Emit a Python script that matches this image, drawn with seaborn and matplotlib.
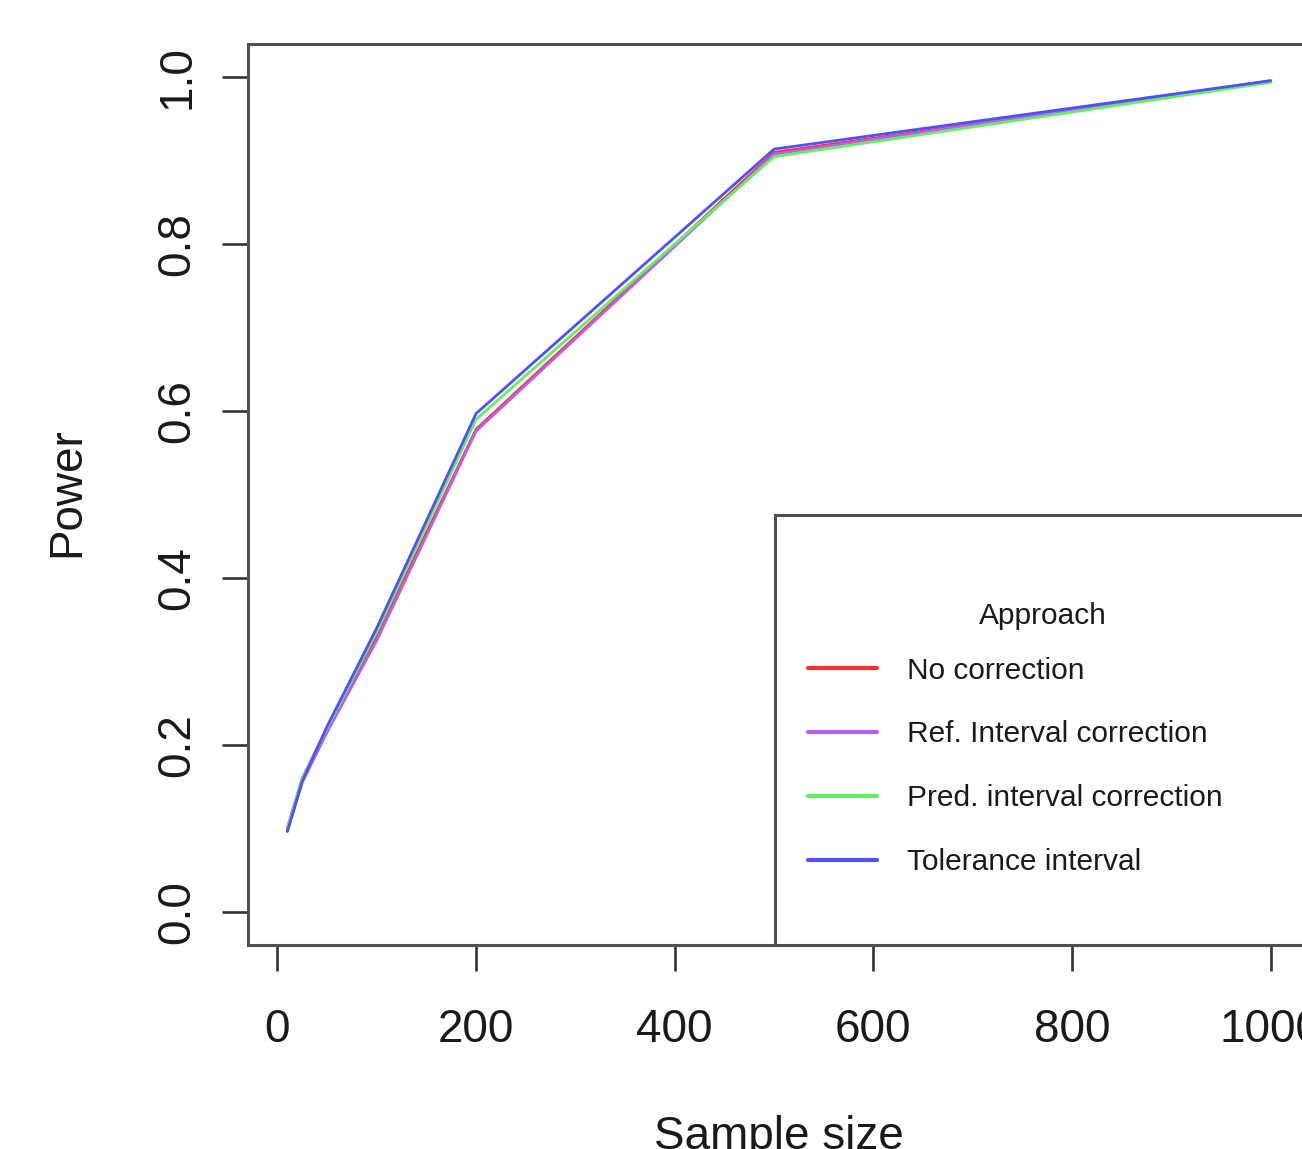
import numpy as np
import pandas as pd
import matplotlib
matplotlib.use("Agg")
import matplotlib.pyplot as plt
import matplotlib.patches as mpatches
import seaborn as sns

# ---------------- data ----------------
sample_size = [10, 25, 50, 100, 200, 500, 1000]
no_correction = [0.100, 0.160, 0.220, 0.330, 0.578, 0.910, 0.995]
ref_interval = [0.097, 0.155, 0.215, 0.325, 0.576, 0.908, 0.996]
pred_interval = [0.100, 0.160, 0.220, 0.335, 0.590, 0.905, 0.994]
tolerance = [0.096, 0.156, 0.222, 0.340, 0.597, 0.914, 0.996]

approaches = ["No correction", "Ref. Interval correction",
              "Pred. interval correction", "Tolerance interval"]
series = [no_correction, ref_interval, pred_interval, tolerance]
colors = ["#FF3030", "#B860F0", "#60F060", "#5050FF"]

x_ticks = [0, 200, 400, 600, 800, 1000]
y_ticks = [0.0, 0.2, 0.4, 0.6, 0.8, 1.0]
y_tick_labels = ["0.0", "0.2", "0.4", "0.6", "0.8", "1.0"]

df = pd.DataFrame({
    "Sample size": np.tile(sample_size, len(approaches)),
    "Power": np.concatenate(series),
    "Approach": np.repeat(approaches, len(sample_size)),
})

# ---------------- style ----------------
sns.set_style("white")
plt.rcParams["font.family"] = ["Liberation Sans", "DejaVu Sans"]

W, H = 1302, 1149
fig = plt.figure(figsize=(W / 100, H / 100), dpi=100)
left_px, right_px, top_px, bot_px = 248, 1310, 44, 945
ax = fig.add_axes([left_px / W, 1 - bot_px / H,
                   (right_px - left_px) / W, (bot_px - top_px) / H])

sns.lineplot(data=df, x="Sample size", y="Power", hue="Approach",
             hue_order=approaches, palette=colors, linewidth=2.0,
             ax=ax, legend=True, sort=True)

ax.set_xlim(-29.6, 1039.6)
ax.set_ylim(-0.04, 1.04)
ax.set_xticks(x_ticks)
ax.set_xticklabels([str(t) for t in x_ticks])
ax.set_yticks(y_ticks)
ax.set_yticklabels(y_tick_labels)

box_col = "#505050"
for sp in ax.spines.values():
    sp.set_visible(True)
    sp.set_color(box_col)
    sp.set_linewidth(2.2)

ax.tick_params(axis="both", direction="out", length=19, width=1.9,
               color="#333333", labelsize=33, labelcolor="#1a1a1a",
               bottom=True, left=True)
ax.tick_params(axis="x", pad=26)
ax.tick_params(axis="y", pad=16, labelrotation=90)
for lab in ax.get_yticklabels():
    lab.set_va("center")
    lab.set_ha("right")

ax.set_xlabel("Sample size", fontsize=33, color="#1a1a1a")
ax.xaxis.set_label_coords(0.5, -(1115 - bot_px) / (bot_px - top_px))
ax.set_ylabel("Power", fontsize=33, color="#1a1a1a", va="top")
ax.yaxis.set_label_coords((45 - left_px) / (right_px - left_px),
                          (bot_px - 492) / (bot_px - top_px))

# ---------------- legend ----------------
handles, labels = ax.get_legend_handles_labels()
ax.get_legend().remove()

leg_left_px, leg_top_px = 775, 515
x0 = (leg_left_px - left_px) / (right_px - left_px)
frame_h = (bot_px - leg_top_px) / (bot_px - top_px)
frame = mpatches.Rectangle((x0, 0), 1 - x0, frame_h, transform=ax.transAxes,
                           facecolor="white", edgecolor=box_col, linewidth=2.2,
                           clip_on=False, zorder=4)
ax.add_patch(frame)

anchor_top_px = 569
anchor_h = (bot_px - anchor_top_px) / (bot_px - top_px)
leg = ax.legend(handles, labels, title="Approach", loc="upper left",
                bbox_to_anchor=(x0, 0, 1 - x0, anchor_h), mode="expand",
                borderaxespad=0, borderpad=1.1, frameon=False,
                fontsize=21.5, title_fontsize=21.5, handlelength=2.3,
                handletextpad=1.03, labelspacing=1.2)
# tighten the gap between the title and the first entry
leg._legend_box.sep = 1.2 * 21.5 - 6.5
leg.set_zorder(5)
for line in leg.get_lines():
    line.set_linewidth(3.0)
for t in leg.get_texts():
    t.set_color("#1a1a1a")
leg.get_title().set_color("#1a1a1a")

fig.savefig("out.png", dpi=100)
